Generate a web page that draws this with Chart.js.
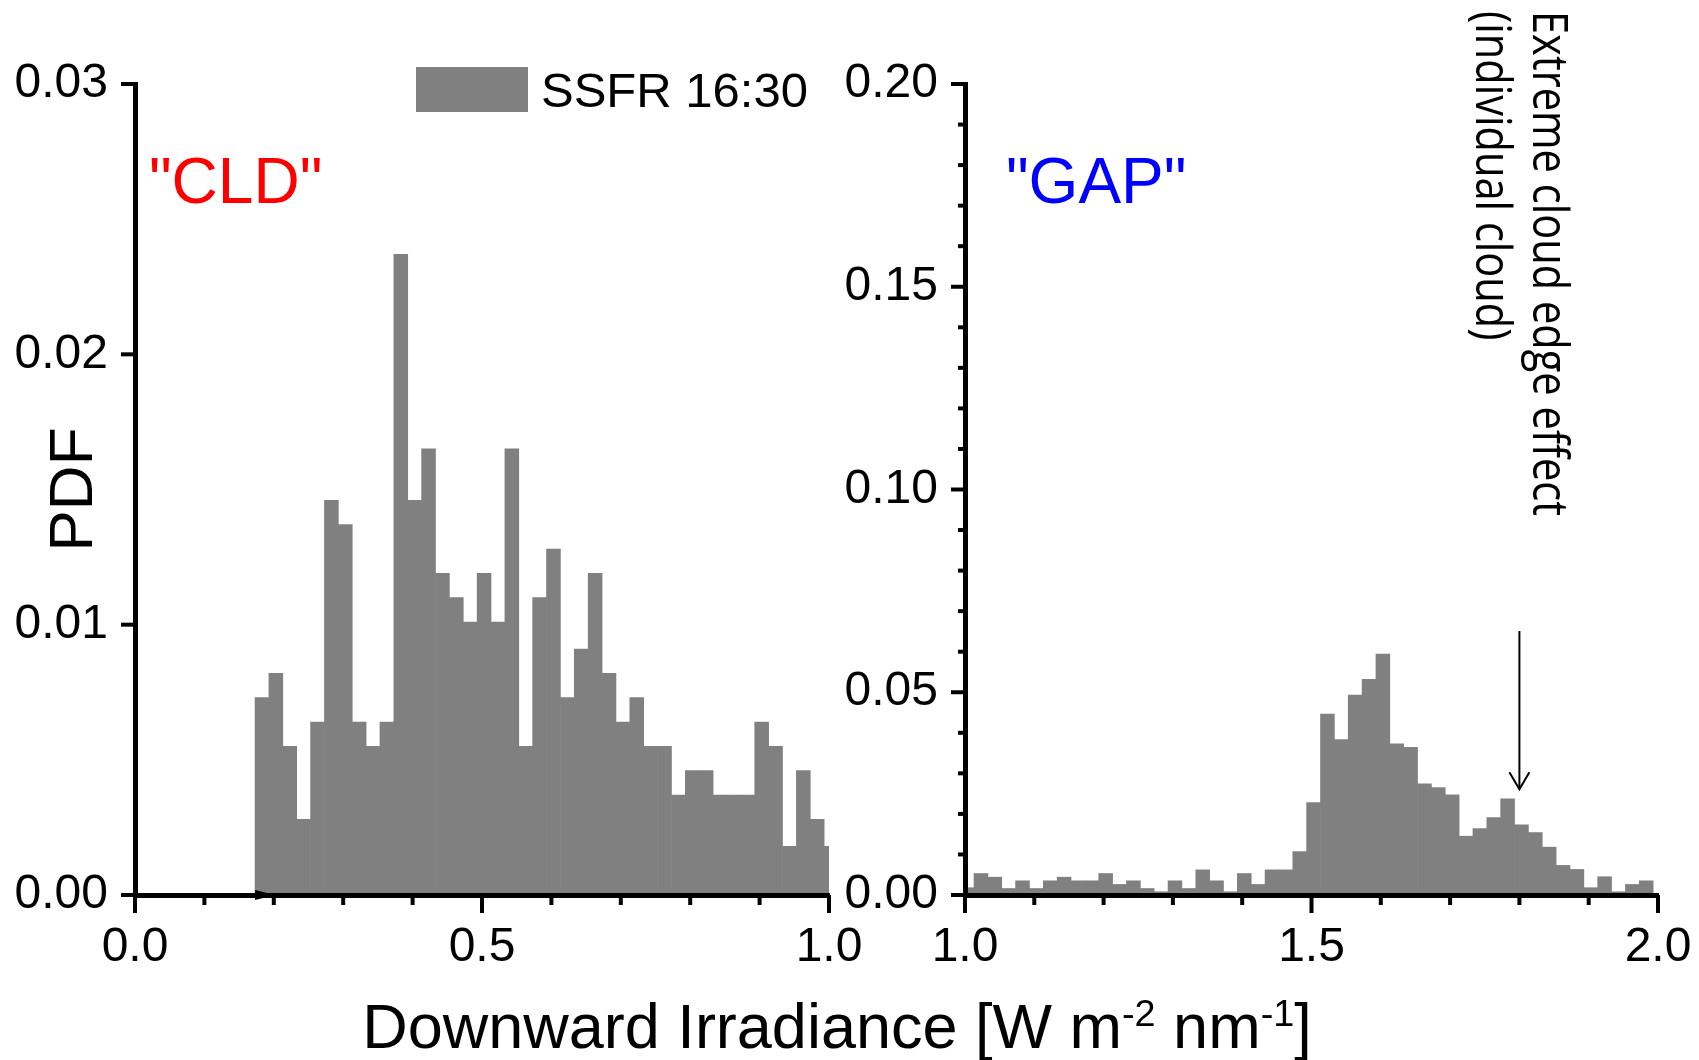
<!DOCTYPE html>
<html>
<head>
    <title>SSFR 16:30 Downward Irradiance PDF</title>
    <script src="https://cdn.jsdelivr.net/npm/chart.js"></script>
    <style>
        body {
            margin: 0;
            background: #fff;
        }
        #figure {
            position: relative;
            width: 1699px;
            height: 1060px;
            overflow: hidden;
            font-family: 'Liberation Sans', Arial, sans-serif;
        }
        .panel {
            position: absolute;
            left: 0;
            top: 0;
            width: 1699px;
            height: 1060px;
        }
        /* wider than the page so the last x label does not squeeze the plot */
        .panel.wide {
            width: 1780px;
        }
        #xtitle {
            position: absolute;
            left: 0;
            width: 1674px;
            top: 995px;
            text-align: center;
            font-size: 63px;
            line-height: 63px;
            color: #000;
            white-space: nowrap;
        }
        #xtitle sup {
            font-size: 0.6em;
            vertical-align: baseline;
            position: relative;
            top: -22px;
        }
    </style>
</head>
<body>
    <div id="figure">
        <div class="panel"><canvas id="cldChart"></canvas></div>
        <div class="panel wide"><canvas id="gapChart"></canvas></div>
        <div id="xtitle">Downward Irradiance [W m<sup>-2</sup> nm<sup>-1</sup>]</div>
    </div>

    <script>
        // histogram bins (same 0.02 wide bins in both panels)
        const binWidth = 0.02;
        const cldBinStart = 0.173;
        const gapBinStart = 0.993;
        const seriesLabel = 'SSFR 16:30';

        // PDF per bin, left panel (0 - 1)
        const cldPdf = [0.0073, 0.0082, 0.0055, 0.0028, 0.0064, 0.0146, 0.0137, 0.0064, 0.0055, 0.0064,
                        0.0237, 0.0146, 0.0165, 0.0119, 0.0110, 0.0101, 0.0119, 0.0101, 0.0165, 0.0055,
                        0.0110, 0.0128, 0.0073, 0.0091, 0.0119, 0.0082, 0.0064, 0.0073, 0.0055, 0.0055,
                        0.0037, 0.0046, 0.0046, 0.0037, 0.0037, 0.0037, 0.0064, 0.0055, 0.0018, 0.0046,
                        0.0028, 0.0018];

        // PDF per bin, right panel (1 - 2)
        const gapPdf = [0.0018, 0.0053, 0.0044, 0.0016, 0.0035, 0.0016, 0.0035, 0.0044, 0.0035, 0.0035,
                        0.0053, 0.0026, 0.0035, 0.0016, 0.0008, 0.0035, 0.0016, 0.0062, 0.0035, 0.0008,
                        0.0053, 0.0026, 0.0062, 0.0062, 0.0107, 0.0228, 0.0446, 0.0383, 0.0493, 0.0532,
                        0.0594, 0.0373, 0.0364, 0.0274, 0.0265, 0.0247, 0.0145, 0.0164, 0.0191, 0.0237,
                        0.0173, 0.0154, 0.0118, 0.0073, 0.0063, 0.0018, 0.0045, 0.0008, 0.0026, 0.0035];

        // labelled ticks
        const cldXLabels = [0.0, 0.5, 1.0];
        const cldYLabels = [0.00, 0.01, 0.02, 0.03];
        const gapXLabels = [1.0, 1.5, 2.0];
        const gapYLabels = [0.00, 0.05, 0.10, 0.15, 0.20];

        // annotations (data coordinates)
        const cldNote = { text: '"CLD"', x: 0.020, y: 0.0256 };
        const gapNote = { text: '"GAP"', x: 1.059, y: 0.1707 };
        const edgeArrow = { x: 1.80, from: 0.0651, to: 0.0261 };
        const edgeNote = ['Extreme cloud edge effect', '(individual cloud)'];

        const fontFamily = "'Liberation Sans', Arial, sans-serif";
        const barColor = '#808080';

        Chart.defaults.font.family = fontFamily;
        Chart.defaults.color = '#000';

        function toBins(start, values) {
            return values.map((v, i) => ({ x: start + binWidth * (i + 0.5), y: v }));
        }

        function isLabelled(v, list) {
            return list.some(l => Math.abs(l - v) < 1e-9);
        }

        // outward tick marks: long on labelled ticks, short otherwise
        const tickMarks = {
            id: 'tickMarks',
            afterDraw(chart) {
                const ctx = chart.ctx;
                const { x, y } = chart.scales;
                ctx.save();
                ctx.strokeStyle = '#000';
                ctx.lineWidth = 4;
                x.ticks.forEach(t => {
                    const px = x.getPixelForValue(t.value);
                    const len = t.label ? 18 : 10;
                    ctx.beginPath();
                    ctx.moveTo(px, x.top);
                    ctx.lineTo(px, x.top + len);
                    ctx.stroke();
                });
                y.ticks.forEach(t => {
                    const py = y.getPixelForValue(t.value);
                    const len = t.label ? 14 : 7;
                    ctx.beginPath();
                    ctx.moveTo(y.right, py);
                    ctx.lineTo(y.right - len, py);
                    ctx.stroke();
                });
                ctx.restore();
            }
        };

        const cldNotes = {
            id: 'cldNotes',
            afterDraw(chart) {
                const { ctx, chartArea, scales: { x, y } } = chart;
                const ds = chart.data.datasets[0];
                ctx.save();
                // legend
                ctx.fillStyle = ds.backgroundColor;
                ctx.fillRect(chartArea.left + 281, chartArea.top - 17, 112, 45);
                ctx.fillStyle = '#000';
                ctx.font = '49px ' + fontFamily;
                ctx.textAlign = 'left';
                ctx.textBaseline = 'alphabetic';
                ctx.fillText(ds.label, chartArea.left + 406, chartArea.top + 23);
                // "CLD"
                ctx.fillStyle = '#ff0000';
                ctx.font = '64px ' + fontFamily;
                ctx.fillText(cldNote.text, x.getPixelForValue(cldNote.x), y.getPixelForValue(cldNote.y));
                // small marker where the histogram starts
                const sx = x.getPixelForValue(cldBinStart);
                const sy = y.getPixelForValue(0);
                ctx.fillStyle = '#000';
                ctx.beginPath();
                ctx.moveTo(sx, sy - 5);
                ctx.lineTo(sx + 20, sy);
                ctx.lineTo(sx, sy + 5);
                ctx.closePath();
                ctx.fill();
                ctx.restore();
            }
        };

        const gapNotes = {
            id: 'gapNotes',
            afterDraw(chart) {
                const { ctx, chartArea, scales: { x, y } } = chart;
                ctx.save();
                // "GAP"
                ctx.fillStyle = '#0000ff';
                ctx.font = '64px ' + fontFamily;
                ctx.textAlign = 'left';
                ctx.textBaseline = 'alphabetic';
                ctx.fillText(gapNote.text, x.getPixelForValue(gapNote.x), y.getPixelForValue(gapNote.y));
                // arrow
                const ax = x.getPixelForValue(edgeArrow.x);
                const ay0 = y.getPixelForValue(edgeArrow.from);
                const ay1 = y.getPixelForValue(edgeArrow.to);
                ctx.strokeStyle = '#000';
                ctx.lineWidth = 2;
                ctx.beginPath();
                ctx.moveTo(ax, ay0);
                ctx.lineTo(ax, ay1);
                ctx.stroke();
                ctx.beginPath();
                ctx.moveTo(ax - 10, ay1 - 17);
                ctx.lineTo(ax, ay1);
                ctx.lineTo(ax + 10, ay1 - 17);
                ctx.stroke();
                // vertical note, reading top to bottom
                ctx.fillStyle = '#000';
                ctx.font = '49px "Open Sans", sans-serif';
                const squeeze = 505 / ctx.measureText(edgeNote[0]).width;
                ctx.translate(ax + 14, chartArea.top - 73);
                ctx.rotate(Math.PI / 2);
                ctx.scale(squeeze, 1);
                ctx.fillText(edgeNote[0], 0, 0);
                ctx.fillText(edgeNote[1], 0, 57);
                ctx.restore();
            }
        };

        function panelConfig(p) {
            return {
                type: 'bar',
                data: {
                    datasets: [{
                        label: seriesLabel,
                        data: toBins(p.binStart, p.values),
                        backgroundColor: barColor,
                        borderWidth: 0,
                        barPercentage: 1,
                        categoryPercentage: 1,
                        clip: 0
                    }]
                },
                options: {
                    responsive: true,
                    maintainAspectRatio: false,
                    animation: false,
                    layout: { padding: { left: p.padLeft, right: p.padRight, top: 84, bottom: 0 } },
                    plugins: {
                        legend: { display: false },
                        tooltip: { enabled: false }
                    },
                    scales: {
                        x: {
                            type: 'linear',
                            offset: false,
                            min: p.xMin,
                            max: p.xMax,
                            afterFit: s => { s.height = 165; },
                            grid: { display: false, drawTicks: false },
                            border: { display: true, color: '#000', width: 5, z: 1 },
                            ticks: {
                                stepSize: 0.1,
                                maxTicksLimit: 100,
                                autoSkip: false,
                                maxRotation: 0,
                                padding: 24,
                                color: '#000',
                                font: { size: 48 },
                                callback: v => isLabelled(v, p.xLabels) ? v.toFixed(1) : ''
                            }
                        },
                        y: {
                            min: 0,
                            max: p.yMax,
                            afterFit: s => { s.width = 135; },
                            grid: { display: false, drawTicks: false },
                            border: { display: true, color: '#000', width: 5, z: 1 },
                            ticks: {
                                stepSize: 0.01,
                                maxTicksLimit: 100,
                                autoSkip: false,
                                padding: 27,
                                color: '#000',
                                font: { size: 48 },
                                callback: v => isLabelled(v, p.yLabels) ? v.toFixed(2) : ''
                            },
                            title: {
                                display: !!p.yTitle,
                                text: p.yTitle || '',
                                color: '#000',
                                font: { size: 62 },
                                padding: { top: 38, bottom: 0 }
                            }
                        }
                    }
                },
                plugins: [tickMarks, p.notes]
            };
        }

        new Chart(document.getElementById('cldChart'), panelConfig({
            binStart: cldBinStart, values: cldPdf,
            xMin: 0, xMax: 1, yMax: 0.03,
            xLabels: cldXLabels, yLabels: cldYLabels,
            yTitle: 'PDF',
            padLeft: 0, padRight: 870,
            notes: cldNotes
        }));

        // right panel canvas is 1780 wide: plot ends at x = 1658
        new Chart(document.getElementById('gapChart'), panelConfig({
            binStart: gapBinStart, values: gapPdf,
            xMin: 1, xMax: 2, yMax: 0.2,
            xLabels: gapXLabels, yLabels: gapYLabels,
            yTitle: '',
            padLeft: 830, padRight: 122,
            notes: gapNotes
        }));
    </script>
</body>
</html>
